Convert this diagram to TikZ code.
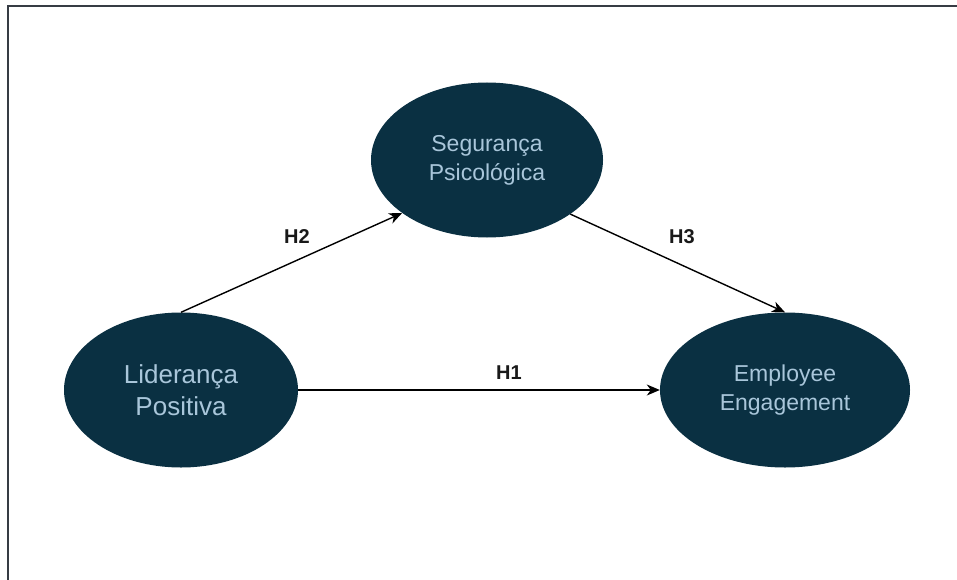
\documentclass[tikz,border=0pt]{standalone}
\usepackage{fontspec}
\setmainfont{Liberation Sans}
\usetikzlibrary{shapes.geometric,arrows.meta}
\definecolor{construct}{HTML}{0A3042}
\definecolor{constructtext}{HTML}{A9C6DA}
\definecolor{framegray}{HTML}{363C44}
\tikzset{
    construct/.style={ellipse, fill=construct, text=constructtext, inner sep=0pt,
        minimum height=155pt, align=center, font=\fontsize{23}{29}\selectfont},
    path/.style={-{Stealth[length=13pt,width=11pt,inset=4pt]}, line width=1.4pt, black},
    hlabel/.style={font=\fontsize{20}{22}\selectfont\bfseries, text=black!90}
}
\begin{document}
\begin{tikzpicture}[x=1pt, y=-1pt]
    % Canvas and frame
    \useasboundingbox (0,0) rectangle (957,580);
    \draw[framegray, line width=2.2pt] (8,580) -- (8,6) -- (957,6);

    % Constructs
    \node[construct, minimum width=232pt] (seg) at (487,160) {Segurança\\Psicológica};
    \node[construct, minimum width=234pt, font=\fontsize{26}{32}\selectfont] (lid) at (181,390) {Liderança\\Positiva};
    \node[construct, minimum width=250pt] (emp) at (785,390) {Employee\\Engagement};

    % Hypotheses
    \draw[path] (lid.north) -- (seg.212);
    \draw[path] (seg.327) -- (emp.north);
    \draw[path] (lid.east) -- (emp.west);

    \node[hlabel] (h2) at (297,237) {H2};
    \node[hlabel] (h3) at (682,237) {H3};
    \node[hlabel] (h1) at (509,373) {H1};
\end{tikzpicture}
\end{document}
